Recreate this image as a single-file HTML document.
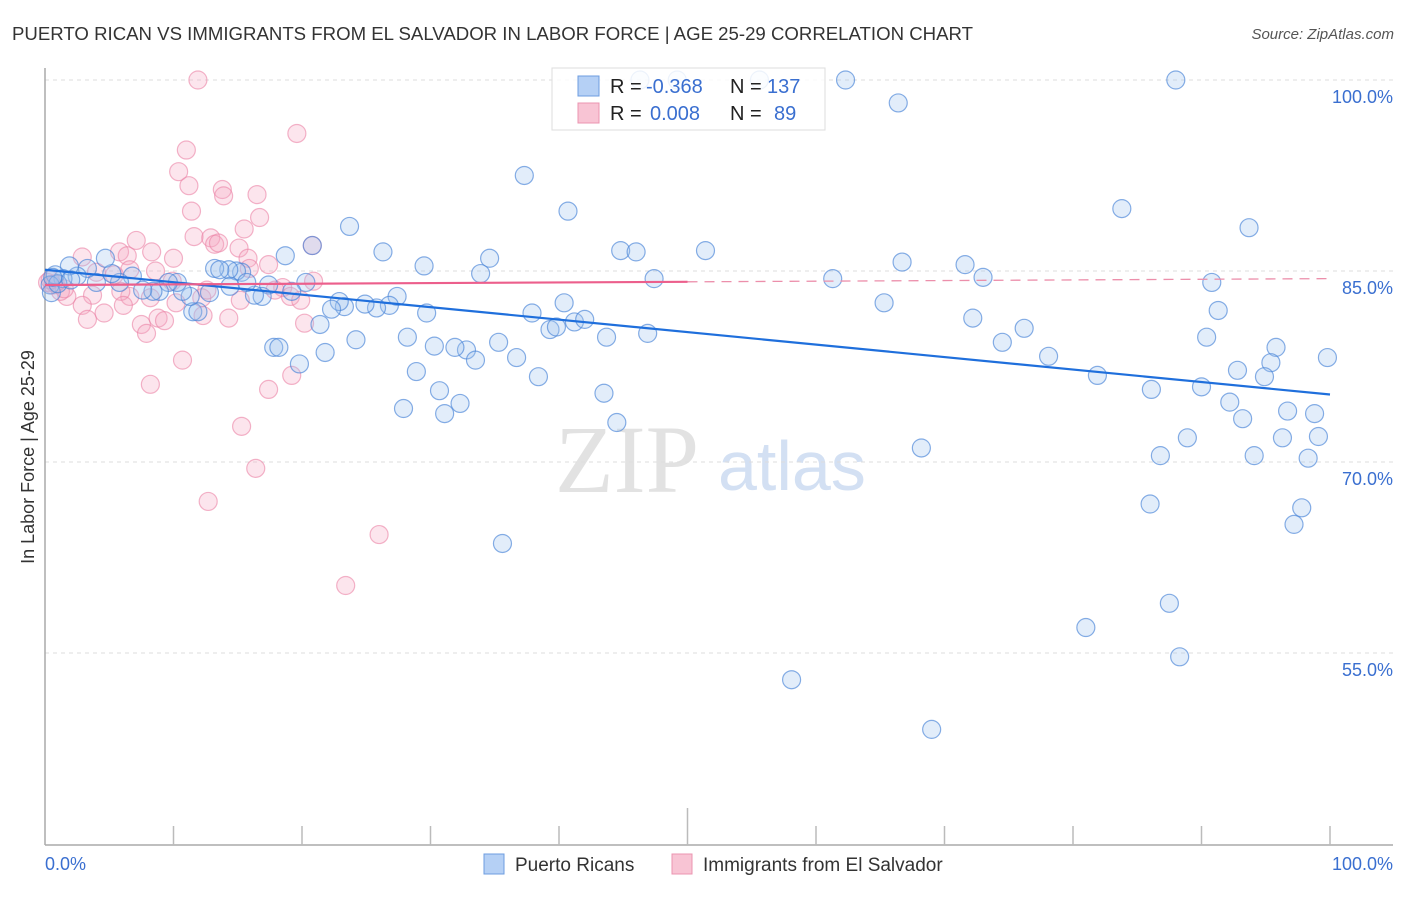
<!DOCTYPE html>
<html><head><meta charset="utf-8"><style>
body{margin:0;background:#fff;width:1406px;height:892px;overflow:hidden;font-family:"Liberation Sans",sans-serif}
</style></head><body>
<svg id="chart" width="1406" height="892" xmlns="http://www.w3.org/2000/svg">
<text x="12" y="40" font-size="18" fill="#333" textLength="961" lengthAdjust="spacingAndGlyphs">PUERTO RICAN VS IMMIGRANTS FROM EL SALVADOR IN LABOR FORCE | AGE 25-29 CORRELATION CHART</text>
<text x="1394" y="39" font-size="15" fill="#555" font-style="italic" text-anchor="end">Source: ZipAtlas.com</text>
<g>
<text x="555" y="492" font-size="96" font-family="Liberation Serif,serif" fill="#e2e2e2">ZIP</text>
<text x="718" y="490" font-size="70" fill="#d3e0f3">atlas</text>
</g>
<g id="grid"></g>
<line x1="45" y1="68" x2="45" y2="845" stroke="#aaa" stroke-width="1.5"/>
<line x1="45" y1="845" x2="1393" y2="845" stroke="#aaa" stroke-width="1.5"/>
<g id="ticks"></g>
<g id="pink"></g><g id="blue"></g><g id="lines"></g>
<text transform="translate(34,457) rotate(-90)" font-size="18" fill="#333" text-anchor="middle">In Labor Force | Age 25-29</text>
<text x="45" y="870" font-size="18" fill="#3a6fd0">0.0%</text>
<text x="1393" y="870" font-size="18" fill="#3a6fd0" text-anchor="end">100.0%</text>
<g>
<rect x="552" y="68" width="273" height="62" fill="rgba(255,255,255,0.85)" stroke="#ddd"/>
<rect x="578" y="76" width="21" height="20" fill="#b5d0f5" stroke="#6d9de0"/>
<rect x="578" y="103" width="21" height="20" fill="#f8c4d4" stroke="#eb94b0"/>
<text x="610" y="93" font-size="20" fill="#222">R = <tspan x="646" fill="#3a6fd0">-0.368</tspan></text>
<text x="730" y="93" font-size="20" fill="#222">N = <tspan x="767" fill="#3a6fd0">137</tspan></text>
<text x="610" y="120" font-size="20" fill="#222">R = <tspan x="650" fill="#3a6fd0">0.008</tspan></text>
<text x="730" y="120" font-size="20" fill="#222">N = <tspan x="774" fill="#3a6fd0">89</tspan></text>
</g>
<g>
<rect x="484" y="854" width="20" height="20" fill="#b5d0f5" stroke="#6d9de0"/>
<text x="515" y="871" font-size="19" fill="#333">Puerto Ricans</text>
<rect x="672" y="854" width="20" height="20" fill="#f8c4d4" stroke="#eb94b0"/>
<text x="703" y="871" font-size="19" fill="#333">Immigrants from El Salvador</text>
</g>
</svg>
<script>
const yTicks=[100,85,70,55];
const yTickLabels=["100.0%","85.0%","70.0%","55.0%"];
const blueX=[46.3,49.2,55.6,62.3,88.0,66.4,37.3,40.7,83.8,93.7,23.7,26.3,34.6,44.8,46.0,51.4,20.8,18.7,29.5,33.9,47.4,61.3,66.7,71.6,73.0,90.8,91.3,65.3,72.2,76.2,74.5,78.1,90.4,95.8,95.4,99.8,92.8,94.9,81.9,86.1,90.0,92.2,96.7,98.8,93.2,88.9,96.3,99.1,86.8,94.1,98.3,68.2,86.0,97.8,97.2,87.5,81.0,88.3,58.1,69.0,35.6,44.5,43.5,38.4,36.7,35.3,32.8,31.9,33.5,30.3,28.2,24.2,21.8,19.8,17.8,18.2,28.9,30.7,32.3,31.1,27.9,39.3,39.8,41.2,42.0,43.7,46.9,37.9,40.4,29.7,27.4,26.8,25.8,24.9,23.3,22.9,22.3,21.4,20.3,19.2,17.4,16.9,16.3,15.3,14.9,14.3,13.2,13.6,15.7,14.4,12.8,11.5,11.9,11.3,10.7,10.3,9.6,8.9,8.4,7.6,6.8,5.8,5.2,4.7,4.0,3.3,2.5,1.9,1.4,0.8,0.4,0.5,1.0,2.0,0.6];
const blueY=[100,100,100,100,100,98.2,92.5,89.7,89.9,88.4,88.5,86.5,86.0,86.6,86.5,86.6,87.0,86.2,85.4,84.8,84.4,84.4,85.7,85.5,84.5,84.1,81.9,82.5,81.3,80.5,79.4,78.3,79.8,79.0,77.8,78.2,77.2,76.7,76.8,75.7,75.9,74.7,74.0,73.8,73.4,71.9,71.9,72.0,70.5,70.5,70.3,71.1,66.7,66.4,65.1,58.9,57.0,54.7,52.9,49.0,63.6,73.1,75.4,76.7,78.2,79.4,78.8,79.0,78.0,79.1,79.8,79.6,78.6,77.7,79.0,79.0,77.1,75.6,74.6,73.8,74.2,80.4,80.6,81.0,81.2,79.8,80.1,81.7,82.5,81.7,83.0,82.3,82.1,82.4,82.2,82.6,82.0,80.8,84.1,83.4,83.9,83.0,83.1,84.9,85.0,85.1,85.2,85.1,84.1,83.8,83.3,81.8,81.8,83.0,83.4,84.1,84.1,83.4,83.4,83.5,84.6,84.1,84.8,86.0,84.1,85.2,84.6,85.4,84.4,84.7,83.9,83.3,84.0,84.3,84.5];
const pinkX=[11.9,19.6,11.0,10.4,11.2,13.8,13.9,16.5,11.4,16.7,15.5,11.6,12.9,13.2,13.5,15.1,20.8,7.1,8.3,5.8,6.4,10.0,2.9,15.8,15.9,17.4,8.6,6.6,5.4,4.0,9.9,18.5,17.9,19.1,19.9,20.9,15.2,12.2,12.6,10.2,8.2,6.6,5.9,3.7,2.9,1.7,1.2,0.6,0.2,3.3,4.6,6.1,7.5,7.9,8.8,9.3,12.3,14.3,20.2,10.7,19.2,8.2,17.4,15.3,16.4,12.7,26.0,23.4,0.8,1.5,0.4];
const pinkY=[100,95.8,94.5,92.8,91.7,91.4,90.9,91.0,89.7,89.2,88.3,87.7,87.6,87.1,87.2,86.8,87.0,87.4,86.5,86.5,86.2,86.0,86.1,86.0,85.2,85.5,85.0,85.1,84.7,84.9,84.2,83.7,83.5,83.0,82.7,84.2,82.7,82.9,83.5,82.5,82.9,83.0,83.4,83.1,82.3,83.0,83.4,83.9,84.1,81.2,81.7,82.3,80.8,80.1,81.3,81.1,81.5,81.3,80.9,78.0,76.8,76.1,75.7,72.8,69.5,66.9,64.3,60.3,84.0,83.6,84.3];
const blueTrend=[85.1,75.3];
const pinkTrend=[83.9,84.4];
const NS="http://www.w3.org/2000/svg";
const X=v=>45+v*12.85, Y=v=>80+(100-v)*12.733;
function mk(t,a,p){const e=document.createElementNS(NS,t);for(const k in a)e.setAttribute(k,a[k]);p.appendChild(e);return e;}
const grid=document.getElementById('grid');
yTicks.forEach((t,i)=>{
 const l=mk('line',{x1:45,x2:1393,y1:Y(t),y2:Y(t),stroke:'#ddd','stroke-dasharray':'4,4'},grid);
 
 
 const tx=mk('text',{x:1393,y:Y(t)+23,'font-size':18,fill:'#3a6fd0','text-anchor':'end'},grid);
 tx.textContent=yTickLabels[i];
 
 
});
const ticks=document.getElementById('ticks');
for(let k=1;k<=10;k++){
 const l=mk('line',{x1:X(k*10),x2:X(k*10),y1:k==5?808:826,y2:845,stroke:'#bbb','stroke-width':1.5},ticks);
 
 
}
function dots(xs,ys,g,fill,stroke,name){
 xs.forEach((x,i)=>{const c=mk('circle',{cx:X(x),cy:Y(ys[i]),r:9,fill:fill,stroke:stroke,'stroke-width':1.2},g);
 
 });
}
dots(pinkX,pinkY,document.getElementById('pink'),'rgba(244,170,195,0.3)','rgba(235,130,165,0.6)','el-salvador-point');
dots(blueX,blueY,document.getElementById('blue'),'rgba(160,195,240,0.3)','rgba(70,130,215,0.65)','puerto-rican-point');
const lines=document.getElementById('lines');
const bl=mk('line',{x1:X(0),y1:Y(blueTrend[0]),x2:X(100),y2:Y(blueTrend[1]),stroke:'#1f6fdc','stroke-width':2.2},lines);


const pm=pinkTrend[0]+(pinkTrend[1]-pinkTrend[0])*0.5;
const pl=mk('line',{x1:X(0),y1:Y(pinkTrend[0]),x2:X(50),y2:Y(pm),stroke:'#ec5f8c','stroke-width':2.2},lines);


const pd=mk('line',{x1:X(50),y1:Y(pm),x2:X(100),y2:Y(pinkTrend[1]),stroke:'#ec8fab','stroke-width':1.3,'stroke-dasharray':'10,7'},lines);


</script>
</body></html>
